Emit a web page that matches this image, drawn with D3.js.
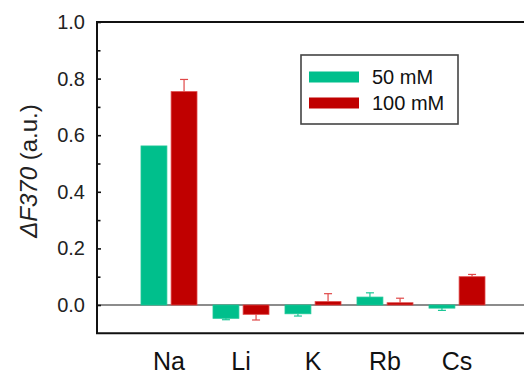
<!DOCTYPE html>
<html>
<head>
<meta charset="utf-8">
<script src="https://cdn.jsdelivr.net/npm/d3@7"></script>
<style>
  body { margin: 0; background: #fff; }
  svg { display: block; font-family: "Liberation Sans", Arial, sans-serif; }
</style>
</head>
<body>
<div id="chart"></div>
<script>
// ---- data ----
const categories = ['Na', 'Li', 'K', 'Rb', 'Cs'];
const seriesNames = ['50 mM', '100 mM'];
const values50 = [0.562, -0.047, -0.031, 0.028, -0.011];
const errors50 = [0.0, 0.005, 0.008, 0.015, 0.008];
const values100 = [0.754, -0.033, 0.012, 0.008, 0.100];
const errors100 = [0.043, 0.020, 0.028, 0.016, 0.008];
const majorTicks = [0.0, 0.2, 0.4, 0.6, 0.8, 1.0];
const minorTicks = [0.1, 0.3, 0.5, 0.7, 0.9];

const colors = ['#00bf8c', '#c00000'];
const strokes = ['#1cc796', '#e04848'];

const W = 524, H = 372;
const mLeft = 97, mRight = 529, mTop = 22, mBottom = 333.3;

const svg = d3.select('#chart').append('svg')
  .attr('width', W).attr('height', H);

// scales
const x0 = d3.scaleBand().domain(categories).range([mLeft, mRight])
  .paddingInner(0).paddingOuter(0.5);
const x1 = d3.scaleBand().domain(seriesNames).range([-28, 28])
  .paddingInner(0.14).paddingOuter(0);
const y = d3.scaleLinear().domain([-0.1, 1.0]).range([mBottom, mTop]);

// zero line
svg.append('line')
  .attr('x1', mLeft).attr('x2', W)
  .attr('y1', y(0)).attr('y2', y(0))
  .attr('stroke', '#666').attr('stroke-width', 1.6);

// bars
const rows = categories.map((c, i) => ({
  cat: c,
  vals: [
    {s: seriesNames[0], v: values50[i], e: errors50[i], k: 0},
    {s: seriesNames[1], v: values100[i], e: errors100[i], k: 1}
  ]
}));

const groups = svg.append('g').selectAll('g')
  .data(rows).enter().append('g')
  .attr('transform', d => `translate(${x0(d.cat) + x0.bandwidth() / 2},0)`);

groups.selectAll('rect')
  .data(d => d.vals).enter().append('rect')
  .attr('x', d => x1(d.s))
  .attr('width', x1.bandwidth())
  .attr('y', d => y(Math.max(0, d.v)))
  .attr('height', d => Math.abs(y(d.v) - y(0)))
  .attr('fill', d => colors[d.k])
  .attr('stroke', d => strokes[d.k])
  .attr('stroke-width', 0.8);

// error bars (one sided, away from zero)
const errG = groups.selectAll('g.err')
  .data(d => d.vals.filter(v => v.e > 0)).enter().append('g')
  .attr('class', 'err')
  .attr('stroke', d => strokes[d.k])
  .attr('stroke-width', 1.2);
errG.append('line')
  .attr('x1', d => x1(d.s) + x1.bandwidth() / 2)
  .attr('x2', d => x1(d.s) + x1.bandwidth() / 2)
  .attr('y1', d => y(d.v))
  .attr('y2', d => y(d.v + Math.sign(d.v) * d.e));
errG.append('line')
  .attr('x1', d => x1(d.s) + x1.bandwidth() / 2 - 4)
  .attr('x2', d => x1(d.s) + x1.bandwidth() / 2 + 4)
  .attr('y1', d => y(d.v + Math.sign(d.v) * d.e))
  .attr('y2', d => y(d.v + Math.sign(d.v) * d.e));

// y axis, ticks pointing inside
const yAxis = svg.append('g')
  .attr('transform', `translate(${mLeft},0)`)
  .call(d3.axisLeft(y).tickValues(majorTicks)
    .tickSizeInner(-4).tickSizeOuter(0).tickPadding(12)
    .tickFormat(d3.format('.1f')));
yAxis.select('.domain').remove();
yAxis.selectAll('.tick line').attr('stroke', '#111').attr('stroke-width', 1.6);
yAxis.selectAll('.tick text')
  .attr('font-size', 20).attr('fill', '#222')
  .attr('font-family', '"Liberation Sans", Arial, sans-serif');

const yMinor = svg.append('g')
  .attr('transform', `translate(${mLeft},0)`)
  .call(d3.axisLeft(y).tickValues(minorTicks)
    .tickSizeInner(-3.5).tickSizeOuter(0).tickFormat(''));
yMinor.select('.domain').remove();
yMinor.selectAll('.tick line').attr('stroke', '#111').attr('stroke-width', 1.6);

// frame (left, top, bottom; open on the right)
const frame = svg.append('g').attr('stroke', '#111').attr('stroke-width', 2).attr('fill', 'none');
frame.append('path')
  .attr('d', `M${W},${y(1.0)}H${mLeft}V${mBottom}H${W}`);

// x labels
svg.append('g').selectAll('text')
  .data(categories).enter().append('text')
  .attr('x', d => x0(d) + x0.bandwidth() / 2)
  .attr('y', 370)
  .attr('text-anchor', 'middle')
  .attr('font-size', 25)
  .attr('fill', '#111')
  .text(d => d);

// y title
const yt = svg.append('text')
  .attr('transform', 'translate(37,171) rotate(-90)')
  .attr('text-anchor', 'middle')
  .attr('font-size', 24)
  .attr('fill', '#222');
yt.append('tspan').attr('font-style', 'italic').text('\u0394F370');
yt.append('tspan').text(' (a.u.)');

// legend
const legend = svg.append('g');
legend.append('rect')
  .attr('x', 301).attr('y', 55).attr('width', 157).attr('height', 69)
  .attr('fill', '#fff').attr('stroke', '#444').attr('stroke-width', 1.6);
const items = legend.selectAll('g.item')
  .data(seriesNames).enter().append('g')
  .attr('class', 'item')
  .attr('transform', (d, i) => `translate(309,${77 + i * 26})`);
items.append('rect')
  .attr('x', 0).attr('y', -5.5).attr('width', 50).attr('height', 11)
  .attr('fill', (d, i) => colors[i]);
items.append('text')
  .attr('x', 63).attr('y', 6.5)
  .attr('font-size', 20).attr('fill', '#111')
  .text(d => d);
</script>
</body>
</html>
